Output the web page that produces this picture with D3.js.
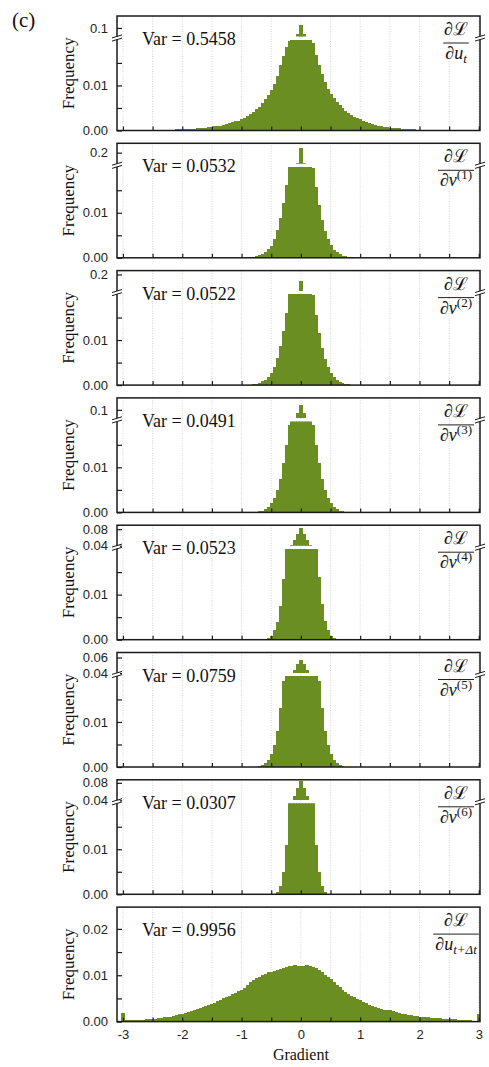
<!DOCTYPE html>
<html><head><meta charset="utf-8">
<script src="https://cdn.jsdelivr.net/npm/d3@7"></script>
<style>
body{margin:0;background:#fff}
.tick text{font-family:"Liberation Sans",Arial,sans-serif;font-size:13px;fill:#222}
.serif{font-family:"Liberation Serif","Times New Roman",serif;fill:#111}
.math{font-family:"Liberation Serif","DejaVu Serif",serif;fill:#111}
</style>
</head><body>
<svg id="chart" width="489" height="1067"></svg>
<script>
// ---------------- data ----------------
const binWidth = 0.05;
const gradTicks = [-3, -2, -1, 0, 1, 2, 3];
const varLabels = ["Var = 0.5458","Var = 0.0532","Var = 0.0522","Var = 0.0491","Var = 0.0523","Var = 0.0759","Var = 0.0307","Var = 0.9956"];
const denomVar = ["u","v","v","v","v","v","v","u"];
const denomSub = ["t","","","","","","","t+Δt"];
const denomSup = ["","(1)","(2)","(3)","(4)","(5)","(6)",""];

// bin centres start at these gradient values, spaced by binWidth
const binStarts = [-3, -1, -1, -1, -1, -1, -1, -3];

const freqUt = [
0.0001,0.0001,0.0001,0.0001,0.0001,0.0001,0.0001,0.0001,0.0001,0.0001,
0.0001,0.0002,0.0002,0.0002,0.0002,0.0002,0.0002,0.0002,0.0003,0.0003,
0.0003,0.0003,0.0003,0.0004,0.0004,0.0005,0.0005,0.0006,0.0006,0.0007,
0.0008,0.0009,0.0010,0.0011,0.0013,0.0014,0.0016,0.0018,0.0020,0.0022,
0.0025,0.0028,0.0032,0.0036,0.0041,0.0047,0.0053,0.0061,0.0069,0.0079,
0.0090,0.0104,0.0122,0.0145,0.0165,0.0185,0.0198,0.0250,0.0350,0.0860,
0.108,0.085,0.034,0.024,0.0195,0.0168,0.0145,0.0125,0.0108,0.0093,
0.0082,0.0072,0.0063,0.0056,0.0049,0.0044,0.0039,0.0035,0.0031,0.0028,
0.0025,0.0022,0.0019,0.0017,0.0015,0.0013,0.0011,0.0010,0.0008,0.0007,
0.0006,0.0006,0.0005,0.0005,0.0004,0.0004,0.0003,0.0003,0.0003,0.0002,
0.0002,0.0002,0.0002,0.0002,0.0002,0.0002,0.0001,0.0001,0.0001,0.0001,
0.0001,0.0001,0.0001,0.0001,0.0001,0.0001,0.0001,0.0001,0.0001,0.0001,
0.0001];

const freqV1 = [
0,0,0.0001,0.0001,0.0002,
0.0003,0.0006,0.0009,0.0013,0.0019,
0.0027,0.0042,0.0062,0.0088,0.0122,
0.0162,0.0205,0.030,0.060,0.152,
0.219,
0.152,0.060,0.029,0.0200,0.0158,
0.0118,0.0085,0.0060,0.0042,0.0028,
0.0018,0.0012,0.0008,0.0005,0.0003,
0.0002,0.0001,0.0001,0,0];

const freqV2 = [
0,0,0.0001,0.0001,0.0002,
0.0003,0.0005,0.0008,0.0012,0.0018,
0.0026,0.0040,0.0060,0.0086,0.0120,
0.0160,0.0205,0.030,0.050,0.103,
0.160,
0.103,0.050,0.029,0.0200,0.0156,
0.0116,0.0083,0.0058,0.0040,0.0027,
0.0017,0.0011,0.0007,0.0004,0.0003,
0.0002,0.0001,0.0001,0,0];

const freqV3 = [
0,0,0,0,0.0001,
0.0001,0.0002,0.0004,0.0007,0.0012,
0.0020,0.0032,0.0050,0.0075,0.0110,
0.0150,0.0195,0.035,0.070,0.092,
0.112,
0.092,0.070,0.034,0.0195,0.0150,
0.0110,0.0075,0.0050,0.0032,0.0020,
0.0012,0.0007,0.0004,0.0002,0.0001,
0.0001,0,0,0,0];

const freqV4 = [
0,0,0,0,0,
0,0.0001,0.0001,0.0001,0.0003,
0.0008,0.0022,0.0040,0.0075,0.0135,
0.0215,0.030,0.041,0.054,0.069,
0.0838,
0.069,0.054,0.041,0.030,0.0215,
0.0140,0.0080,0.0042,0.0022,0.0008,
0.0003,0.0001,0.0001,0.0001,0,
0,0,0,0,0];

const freqV5 = [
0,0,0,0,0,
0.0001,0.0002,0.0004,0.0008,0.0015,
0.0028,0.0048,0.0080,0.0130,0.0190,
0.025,0.031,0.038,0.044,0.051,
0.057,
0.051,0.044,0.038,0.031,0.025,
0.0190,0.0130,0.0080,0.0048,0.0028,
0.0015,0.0008,0.0004,0.0002,0.0001,
0,0,0,0,0];

const freqV6 = [
0,0,0,0,0,
0,0,0,0,0,
0,0.0001,0.0005,0.0018,0.0050,
0.0110,0.0210,0.035,0.050,0.068,
0.085,
0.068,0.050,0.035,0.0210,0.0110,
0.0050,0.0018,0.0005,0.0001,0,
0,0,0,0,0,
0,0,0,0,0];

const freqUtdt = [
0.0019,0.0003,0.0003,0.0003,0.0003,0.0004,0.0004,0.0004,0.0005,0.0005,
0.0006,0.0006,0.0007,0.0008,0.0009,0.0010,0.0011,0.0013,0.0014,0.0016,
0.0017,0.0019,0.0021,0.0023,0.0025,0.0027,0.0029,0.0031,0.0034,0.0036,
0.0038,0.0041,0.0044,0.0047,0.0050,0.0053,0.0056,0.0059,0.0062,0.0065,
0.0068,0.0072,0.0078,0.0086,0.0090,0.0093,0.0097,0.0100,0.0103,0.0106,
0.0108,0.0110,0.0112,0.0113,0.0115,0.0117,0.0119,0.0121,0.0122,0.0121,
0.0119,0.0120,0.0122,0.0121,0.0118,0.0115,0.0111,0.0106,0.0101,0.0096,
0.0091,0.0086,0.0080,0.0074,0.0069,0.0064,0.0060,0.0056,0.0052,0.0049,
0.0046,0.0043,0.0040,0.0036,0.0033,0.0031,0.0029,0.0027,0.0026,0.0025,
0.0024,0.0022,0.0020,0.0019,0.0017,0.0016,0.0015,0.0014,0.0013,0.0012,
0.0011,0.0010,0.0009,0.0009,0.0008,0.0008,0.0007,0.0007,0.0006,0.0006,
0.0006,0.0005,0.0005,0.0004,0.0004,0.0003,0.0003,0.0003,0.0002,0.0002,
0.0017];

const panelFreqs = [freqUt, freqV1, freqV2, freqV3, freqV4, freqV5, freqV6, freqUtdt];

// y-axis: lower segment max, upper (broken) segment domains, tick values
const lowerMax = [0.0202,0.0202,0.0202,0.0202,0.0202,0.0202,0.0202,0.0247];
const upperDomains = [[0.08,0.128],[0.15,0.242],[0.10,0.2235],[0.08,0.128],[0.04,0.0897],[0.04,0.0665],[0.04,0.0869],null];
const upperTicks = [[0.1],[0.2],[0.2],[0.1],[0.04,0.08],[0.04,0.06],[0.04,0.08],[]];
const upperTickText = [["0.1"],["0.2"],["0.2"],["0.1"],["0.04","0.08"],["0.04","0.06"],["0.04","0.08"],[]];
const lowerTicks = [[0,0.01],[0,0.01],[0,0.01],[0,0.01],[0,0.01],[0,0.01],[0,0.01],[0,0.01,0.02]];
const lowerMinorTicks = [0.005, 0.015];

// ---------------- drawing ----------------
const svg = d3.select("#chart");
const L = 117, R = 480;
const x = d3.scaleLinear().domain([-3.1, 3.02]).range([L, R]);
const top0 = 16, step = 127.3, ph = 114.5, brk = 22, gap = 1.5;
const green = "#6b8e23";
const frameCol = "#1a1a1a";

svg.append("text").attr("class","serif").attr("x",12).attr("y",27)
  .attr("font-size",21).text("(c)");

panelFreqs.forEach((freq, i) => {
  const top = top0 + i * step, bottom = top + ph;
  const up = upperDomains[i];
  const g = svg.append("g");
  const bins = freq.map((v, k) => ({c: binStarts[i] + k * binWidth, v}));

  const lowTop = up ? top + brk + gap : top;
  const yLow = d3.scaleLinear().domain([0, lowerMax[i]]).range([bottom, lowTop]);
  const yUp = up ? d3.scaleLinear().domain(up).range([top + brk - gap, top]) : null;

  // grid
  g.append("g").selectAll("line").data(d3.range(-3, 3.01, 0.5)).join("line")
    .attr("x1", d => x(d)).attr("x2", d => x(d))
    .attr("y1", top).attr("y2", bottom)
    .attr("stroke", "#c9c9c9").attr("stroke-width", 0.8).attr("stroke-dasharray", "1,1.5");

  // clip paths
  const cl = "clipL" + i, cu = "clipU" + i;
  const defs = svg.append("defs");
  defs.append("clipPath").attr("id", cl).append("rect")
    .attr("x", L).attr("y", lowTop).attr("width", R - L).attr("height", bottom - lowTop);

  g.append("g").attr("clip-path", `url(#${cl})`).attr("shape-rendering", "crispEdges")
    .selectAll("rect").data(bins.filter(b => b.v > 0)).join("rect")
    .attr("x", b => x(b.c - binWidth / 2))
    .attr("width", b => x(b.c + binWidth / 2) - x(b.c - binWidth / 2) + 0.6)
    .attr("y", b => yLow(Math.min(b.v, lowerMax[i])))
    .attr("height", b => bottom - yLow(Math.min(b.v, lowerMax[i])))
    .attr("fill", green);

  if (up) {
    defs.append("clipPath").attr("id", cu).append("rect")
      .attr("x", L).attr("y", top).attr("width", R - L).attr("height", brk - gap);
    g.append("g").attr("clip-path", `url(#${cu})`).attr("shape-rendering", "crispEdges")
      .selectAll("rect").data(bins.filter(b => b.v > up[0])).join("rect")
      .attr("x", b => x(b.c - binWidth / 2))
      .attr("width", b => x(b.c + binWidth / 2) - x(b.c - binWidth / 2) + 0.6)
      .attr("y", b => yUp(Math.min(b.v, up[1])))
      .attr("height", b => yUp(up[0]) - yUp(Math.min(b.v, up[1])))
      .attr("fill", green);
  }

  // x axis ticks (inward)
  const xAxis = d3.axisBottom(x).tickValues(d3.range(-3, 3.01, 0.5)).tickSize(-4).tickPadding(8)
    .tickFormat(d => (i === 7 && gradTicks.includes(d)) ? String(d) : "");
  const xa = g.append("g").attr("transform", `translate(0,${bottom})`).call(xAxis);
  xa.select(".domain").remove();
  xa.selectAll(".tick line").attr("stroke", frameCol).attr("stroke-width", 1.2);

  // y axis lower
  const yAxisL = d3.axisLeft(yLow).tickValues(lowerTicks[i].concat(lowerMinorTicks))
    .tickSize(-5).tickPadding(9)
    .tickFormat(d => lowerTicks[i].includes(d) ? d3.format(".2f")(d) : "");
  const yl = g.append("g").attr("transform", `translate(${L},0)`).call(yAxisL);
  yl.select(".domain").remove();
  yl.selectAll(".tick line").attr("stroke", frameCol).attr("stroke-width", 1.2);

  if (up) {
    const yAxisU = d3.axisLeft(yUp).tickValues(upperTicks[i]).tickSize(-5).tickPadding(9)
      .tickFormat((d, k) => upperTickText[i][k]);
    const yu = g.append("g").attr("transform", `translate(${L},0)`).call(yAxisU);
    yu.select(".domain").remove();
    yu.selectAll(".tick line").attr("stroke", frameCol).attr("stroke-width", 1.2);
  }

  // frame
  g.append("rect").attr("x", L).attr("y", top).attr("width", R - L).attr("height", bottom - top)
    .attr("fill", "none").attr("stroke", frameCol).attr("stroke-width", 1.5);

  // break marks
  if (up) {
    const by = top + brk;
    [L, R].forEach(ax => {
      g.append("rect").attr("x", ax - 3).attr("y", by - gap).attr("width", 6).attr("height", 2 * gap)
        .attr("fill", "#fff");
      [-1.6, 1.6].forEach(off => {
        g.append("line").attr("x1", ax - 5).attr("y1", by + off + 1.5)
          .attr("x2", ax + 5).attr("y2", by + off - 1.5)
          .attr("stroke", frameCol).attr("stroke-width", 1);
      });
    });
  }

  // Frequency label
  g.append("text").attr("class", "serif").attr("font-size", 17)
    .attr("transform", `translate(74,${(top + bottom) / 2}) rotate(-90)`)
    .attr("text-anchor", "middle").text("Frequency");

  // Var label
  g.append("text").attr("class", "serif").attr("font-size", 18)
    .attr("x", 142).attr("y", top + 29).text(varLabels[i]);

  // fraction label
  const cx = 456;
  g.append("text").attr("class", "math").attr("font-size", 18)
    .attr("x", cx).attr("y", top + 19).attr("text-anchor", "middle").text("∂ℒ");
  const den = g.append("text").attr("class", "math").attr("font-size", 18)
    .attr("x", cx).attr("y", top + 43).attr("text-anchor", "middle");
  den.append("tspan").text("∂");
  den.append("tspan").attr("font-style", "italic").text(denomVar[i]);
  if (denomSub[i]) den.append("tspan").attr("font-style", "italic").attr("font-size", 13).attr("dy", 4).text(denomSub[i]);
  if (denomSup[i]) den.append("tspan").attr("font-size", 13).attr("dy", -7).text(denomSup[i]);
  const w = den.node().getComputedTextLength();
  g.append("line").attr("x1", cx - w / 2 - 2).attr("x2", cx + w / 2 + 2)
    .attr("y1", top + 27).attr("y2", top + 27).attr("stroke", "#222").attr("stroke-width", 1);
});

svg.append("text").attr("class", "serif").attr("font-size", 16)
  .attr("x", x(0)).attr("y", 1060).attr("text-anchor", "middle").text("Gradient");
</script>
</body></html>
